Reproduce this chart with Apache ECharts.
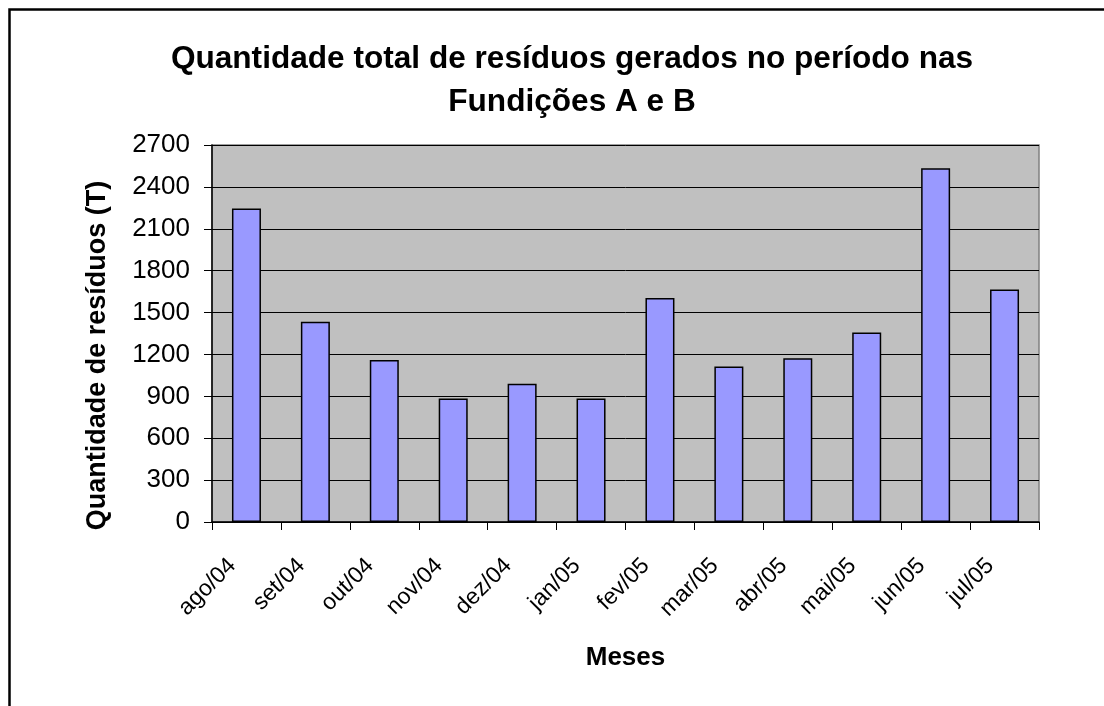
<!DOCTYPE html>
<html>
<head>
<meta charset="utf-8">
<script src="https://cdn.jsdelivr.net/npm/echarts@6/dist/echarts.min.js"></script>
<style>
html,body{margin:0;padding:0;background:#fff;}
#c{width:1104px;height:706px;}
</style>
</head>
<body>
<div id="c"></div>
<script>
const categories = ['ago/04','set/04','out/04','nov/04','dez/04','jan/05','fev/05','mar/05','abr/05','mai/05','jun/05','jul/05'];
const residuos = [2245, 1435, 1160, 885, 990, 885, 1605, 1114, 1173, 1358, 2534, 1665];
const yTicks = { min: 0, max: 2700, interval: 300 };

const chart = echarts.init(document.getElementById('c'), null, {renderer: 'canvas'});
const font = 'Arial, "Liberation Sans", sans-serif';
chart.setOption({
  animation: false,
  backgroundColor: '#ffffff',
  title: {
    text: 'Quantidade total de resíduos gerados no período nas\nFundições A e B',
    left: 567,
    top: 33,
    textAlign: 'center',
    textStyle: {fontFamily: font, fontSize: 31.6, fontWeight: 'bold', color: '#000', lineHeight: 43}
  },
  graphic: [{
    type: 'rect',
    shape: {x: 9.5, y: 9.5, width: 1300, height: 900},
    style: {fill: 'none', stroke: '#000', lineWidth: 2.5},
    silent: true, z: 100
  }],
  grid: {
    left: 212, right: 65, top: 145, bottom: 184,
    show: true, backgroundColor: '#C0C0C0', borderColor: '#808080', borderWidth: 1.5
  },
  xAxis: {
    type: 'category',
    data: categories,
    name: 'Meses',
    nameLocation: 'middle',
    nameGap: 123,
    nameTextStyle: {fontFamily: font, fontSize: 26, fontWeight: 'bold', color: '#000'},
    axisLine: {show: true, lineStyle: {color: '#000', width: 1.5}},
    axisTick: {show: true, length: 8, lineStyle: {color: '#000', width: 1}},
    axisLabel: {
      rotate: 45, margin: 26, interval: 0,
      padding: [0, 20, 0, 0],
      fontFamily: font, fontSize: 23, color: '#000'
    },
    splitLine: {show: false}
  },
  yAxis: {
    type: 'value',
    min: yTicks.min, max: yTicks.max, interval: yTicks.interval,
    name: 'Quantidade de resíduos (T)',
    nameLocation: 'middle',
    nameGap: 101,
    nameTextStyle: {fontFamily: font, fontSize: 27, fontWeight: 'bold', color: '#000', padding: [0, 44, 0, 0]},
    axisLine: {show: true, lineStyle: {color: '#000', width: 1.5}},
    axisTick: {show: true, length: 8, lineStyle: {color: '#000', width: 1}},
    axisLabel: {margin: 22, fontFamily: font, fontSize: 26, color: '#000', formatter: v => String(v)},
    splitLine: {show: true, lineStyle: {color: '#000', width: 1}}
  },
  series: [{
    type: 'bar',
    data: residuos,
    barWidth: 29,
    itemStyle: {color: '#9999FF', borderColor: '#000', borderWidth: 1.5}
  }]
});
</script>
</body>
</html>
